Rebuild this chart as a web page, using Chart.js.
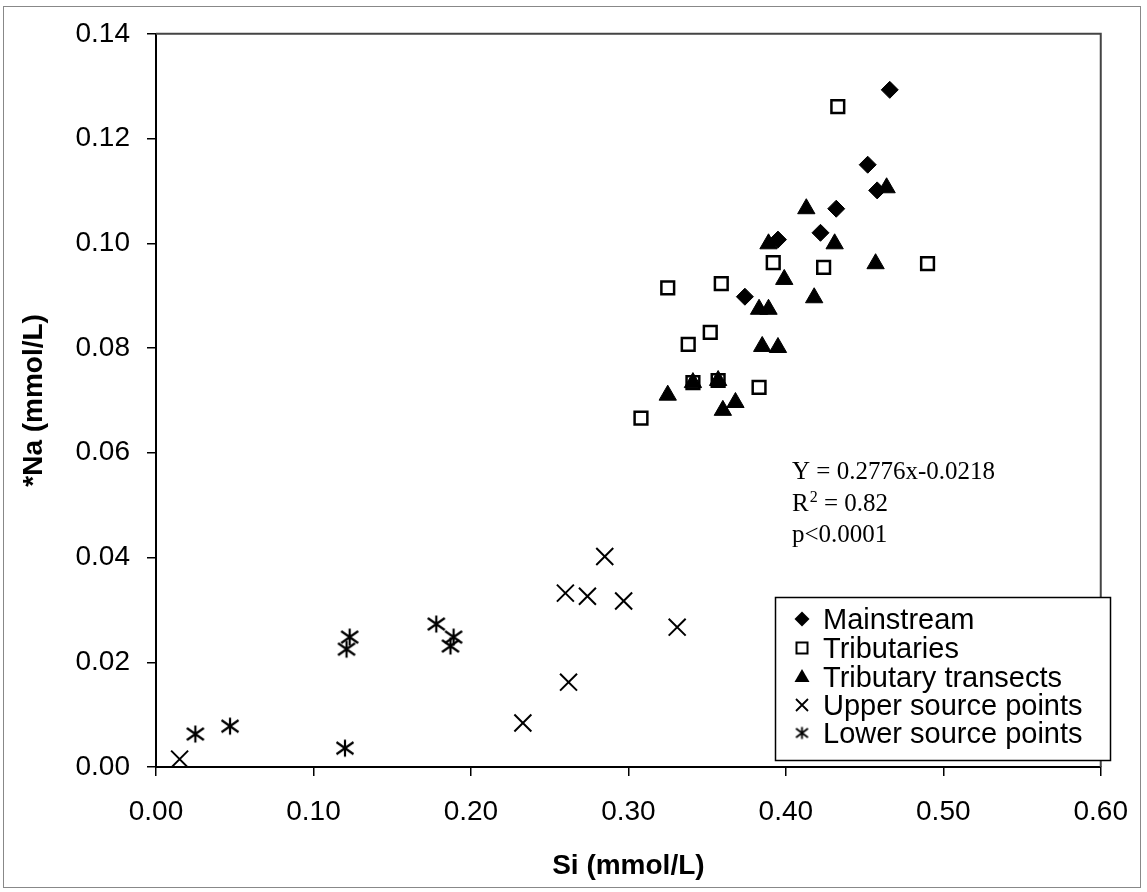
<!DOCTYPE html>
<html>
<head>
<meta charset="utf-8">
<script src="https://cdn.jsdelivr.net/npm/chart.js@4.4.1/dist/chart.umd.min.js"></script>
<style>
  html, body { margin: 0; padding: 0; background: #fff; }
  canvas { display: block; }
</style>
</head>
<body>
<canvas id="naChart" width="1147" height="892"></canvas>
<script>
// Si (x) and *Na (y), mmol/L
var mainstreamSi = [0.466, 0.452, 0.458, 0.432, 0.422, 0.395, 0.374];
var mainstreamNa = [0.1293, 0.1150, 0.1101, 0.1066, 0.1020, 0.1007, 0.0898];

var tributariesSi = [0.433, 0.392, 0.424, 0.490, 0.325, 0.359, 0.352, 0.338, 0.341, 0.357, 0.383, 0.308];
var tributariesNa = [0.1261, 0.0963, 0.0954, 0.0961, 0.0915, 0.0923, 0.0830, 0.0807, 0.0734, 0.0738, 0.0725, 0.0666];

var transectsSi = [0.464, 0.413, 0.431, 0.389, 0.457, 0.399, 0.418, 0.383, 0.389, 0.385, 0.395, 0.341, 0.357, 0.325, 0.368, 0.360];
var transectsNa = [0.1106, 0.1066, 0.0999, 0.0999, 0.0961, 0.0931, 0.0896, 0.0874, 0.0874, 0.0803, 0.0801, 0.0734, 0.0738, 0.0710, 0.0696, 0.0681];

var upperSi = [0.015, 0.233, 0.262, 0.260, 0.274, 0.285, 0.297, 0.331];
var upperNa = [0.0015, 0.0084, 0.0162, 0.0332, 0.0326, 0.0402, 0.0317, 0.0267];

var lowerSi = [0.025, 0.047, 0.120, 0.123, 0.121, 0.178, 0.189, 0.187];
var lowerNa = [0.0063, 0.0078, 0.0036, 0.0248, 0.0225, 0.0273, 0.0248, 0.0231];

var seriesNames = ['Mainstream', 'Tributaries', 'Tributary transects', 'Upper source points', 'Lower source points'];

var xTicks = [0, 0.1, 0.2, 0.3, 0.4, 0.5, 0.6];
var yTicks = [0, 0.02, 0.04, 0.06, 0.08, 0.10, 0.12, 0.14];

var fitLines = ['Y = 0.2776x-0.0218', 'R', '2', ' = 0.82', 'p<0.0001'];

function pairs(xs, ys) {
    return xs.map(function(x, i) { return { x: x, y: ys[i] }; });
}

// six-spoke asterisk used for the lower source points
function makeAsterisk(size, lw) {
    var c = document.createElement('canvas');
    c.width = size; c.height = size;
    var g = c.getContext('2d');
    var m = size / 2, e = 1.5;
    g.strokeStyle = '#000';
    g.lineWidth = lw;
    g.beginPath();
    g.moveTo(m, e); g.lineTo(m, size - e);
    g.moveTo(e, size * 0.2); g.lineTo(size - e, size * 0.8);
    g.moveTo(e, size * 0.8); g.lineTo(size - e, size * 0.2);
    g.stroke();
    return c;
}
var asteriskBig = makeAsterisk(20, 2.2);
var asteriskSmall = makeAsterisk(15, 1.8);

var sans = "'Liberation Sans', Arial, sans-serif";
var serif = "'Liberation Serif', 'Times New Roman', serif";

// legend box, fit text, and the plot frame (top and right)
var decor = {
    id: 'decor',
    beforeDraw: function(chart) {
        var ctx = chart.ctx;
        ctx.save();
        ctx.fillStyle = '#fff';
        ctx.fillRect(0, 0, chart.width, chart.height);
        ctx.restore();
    },
    afterDraw: function(chart) {
        var ctx = chart.ctx, a = chart.chartArea;
        ctx.save();

        ctx.strokeStyle = '#444';
        ctx.lineWidth = 2;
        ctx.beginPath();
        ctx.moveTo(a.left, a.top);
        ctx.lineTo(a.right, a.top);
        ctx.lineTo(a.right, a.bottom);
        ctx.stroke();

        ctx.strokeStyle = '#888';
        ctx.lineWidth = 1;
        ctx.strokeRect(3.5, 6.5, 1137, 881);

        // regression text
        ctx.fillStyle = '#000';
        ctx.textBaseline = 'alphabetic';
        ctx.textAlign = 'left';
        ctx.font = '25px ' + serif;
        var tx = 792;
        ctx.fillText(fitLines[0], tx, 479);
        ctx.fillText(fitLines[1], tx, 511);
        var rw = ctx.measureText(fitLines[1]).width;
        ctx.font = '16px ' + serif;
        ctx.fillText(fitLines[2], tx + rw + 1, 502);
        var sw = ctx.measureText(fitLines[2]).width;
        ctx.font = '25px ' + serif;
        ctx.fillText(fitLines[3], tx + rw + sw + 1, 511);
        ctx.fillText(fitLines[4], tx, 542);

        // legend
        var lx = 775, ly = 597, lw = 335, lh = 163;
        ctx.fillStyle = '#fff';
        ctx.fillRect(lx, ly, lw, lh);
        ctx.strokeStyle = '#000';
        ctx.lineWidth = 1.5;
        ctx.strokeRect(lx + 0.5, ly + 0.5, lw, lh);

        var base = [629, 658, 687, 715, 743];
        var sx = 802;
        ctx.font = '29px ' + sans;
        ctx.fillStyle = '#000';
        seriesNames.forEach(function(name, i) {
            var cy = base[i] - 10;
            ctx.fillStyle = '#000';
            ctx.strokeStyle = '#000';
            ctx.beginPath();
            if (i === 0) {
                ctx.moveTo(sx - 7.5, cy); ctx.lineTo(sx, cy - 7.5);
                ctx.lineTo(sx + 7.5, cy); ctx.lineTo(sx, cy + 7.5);
                ctx.closePath(); ctx.fill();
            } else if (i === 1) {
                ctx.lineWidth = 2;
                ctx.strokeRect(sx - 5.5, cy - 5.5, 11, 11);
            } else if (i === 2) {
                ctx.moveTo(sx, cy - 8); ctx.lineTo(sx + 7.5, cy + 5);
                ctx.lineTo(sx - 7.5, cy + 5); ctx.closePath(); ctx.fill();
            } else if (i === 3) {
                ctx.lineWidth = 1.8;
                ctx.moveTo(sx - 6, cy - 6); ctx.lineTo(sx + 6, cy + 6);
                ctx.moveTo(sx - 6, cy + 6); ctx.lineTo(sx + 6, cy - 6);
                ctx.stroke();
            } else {
                ctx.drawImage(asteriskSmall, sx - 7.5, cy - 7.5);
            }
            ctx.fillText(name, 823, base[i]);
        });

        ctx.restore();
    }
};

var tickFont = { family: sans, size: 28 };
var titleFont = { family: sans, size: 28, weight: 'bold' };

new Chart(document.getElementById('naChart'), {
    type: 'scatter',
    data: {
        datasets: [
            { label: seriesNames[0], data: pairs(mainstreamSi, mainstreamNa), pointStyle: 'rectRot', pointRadius: 8.5, backgroundColor: '#000', borderColor: '#000', borderWidth: 1, order: 1 },
            { label: seriesNames[1], data: pairs(tributariesSi, tributariesNa), pointStyle: 'rect', pointRadius: 9, backgroundColor: 'rgba(0,0,0,0)', borderColor: '#000', borderWidth: 2.5, order: 3 },
            { label: seriesNames[2], data: pairs(transectsSi, transectsNa), pointStyle: 'triangle', pointRadius: 10, backgroundColor: '#000', borderColor: '#000', borderWidth: 1, order: 2 },
            { label: seriesNames[3], data: pairs(upperSi, upperNa), pointStyle: 'crossRot', pointRadius: 12, backgroundColor: '#000', borderColor: '#000', borderWidth: 2, order: 4 },
            { label: seriesNames[4], data: pairs(lowerSi, lowerNa), pointStyle: asteriskBig, pointRadius: 10, order: 5 }
        ]
    },
    options: {
        responsive: false,
        animation: false,
        events: [],
        layout: { padding: { top: 33, right: 39, left: 0, bottom: 0 } },
        plugins: { legend: { display: false }, tooltip: { enabled: false } },
        scales: {
            x: {
                type: 'linear', min: 0, max: 0.6,
                afterFit: function(s) { s.height = 125; },
                afterBuildTicks: function(s) { s.ticks = xTicks.map(function(v) { return { value: v }; }); },
                ticks: { font: tickFont, color: '#000', padding: 19, maxRotation: 0, callback: function(v) { return Number(v).toFixed(2); } },
                grid: { drawOnChartArea: false, drawTicks: true, tickLength: 9, color: '#000', lineWidth: 1.5 },
                border: { color: '#000', width: 2 },
                title: { display: true, text: 'Si (mmol/L)', font: titleFont, color: '#000', padding: { top: 0, bottom: 9 } }
            },
            y: {
                type: 'linear', min: 0, max: 0.14,
                afterFit: function(s) { s.width = 156; },
                afterBuildTicks: function(s) { s.ticks = yTicks.map(function(v) { return { value: v }; }); },
                ticks: { font: tickFont, color: '#000', padding: 17, callback: function(v) { return Number(v).toFixed(2); } },
                grid: { drawOnChartArea: false, drawTicks: true, tickLength: 9, color: '#000', lineWidth: 1.5 },
                border: { color: '#000', width: 2 },
                title: { display: true, text: '*Na (mmol/L)', font: titleFont, color: '#000', padding: { top: 17, bottom: 0 } }
            }
        }
    },
    plugins: [decor]
});
</script>
</body>
</html>
